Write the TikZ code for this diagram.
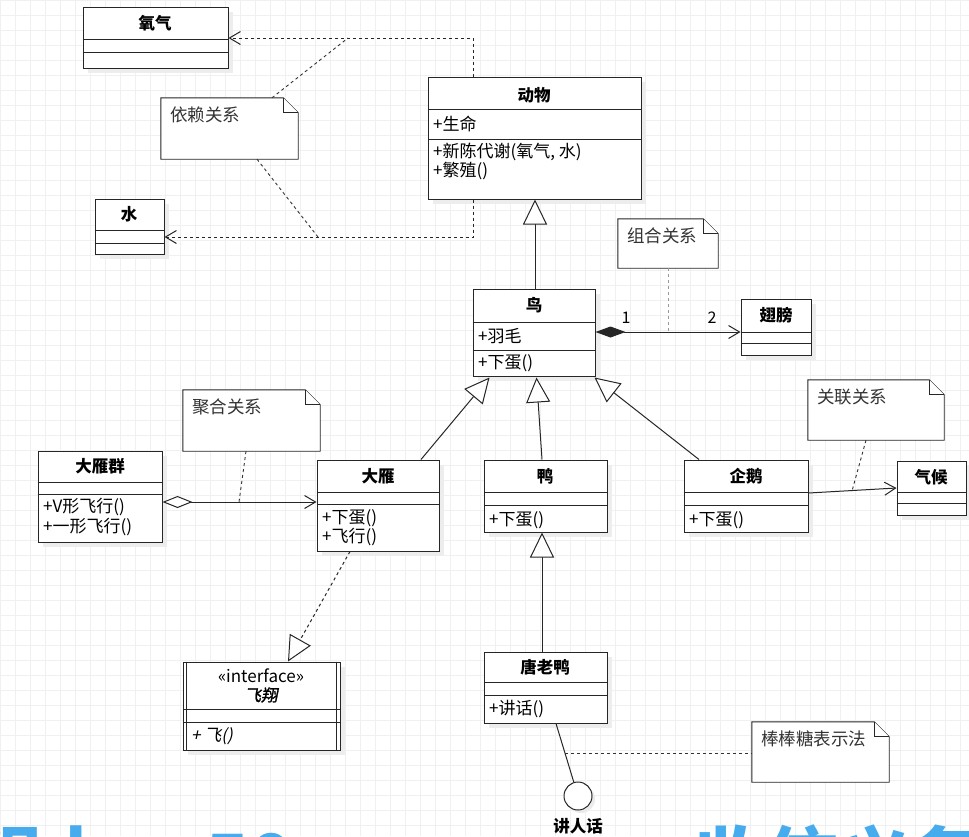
\documentclass[tikz,border=0pt]{standalone}
\usepackage{fontspec}
\setmainfont{Noto Sans CJK SC}
\newfontfamily\slantfont[FakeSlant=0.2]{Noto Sans CJK SC}
\newfontfamily\slantbold[FakeSlant=0.2,FakeBold=1.5]{Noto Sans CJK SC}
\usetikzlibrary{arrows.meta,fit,calc}
\definecolor{subblue}{RGB}{70,172,238}
\tikzset{
  box/.style={draw=black!85, line width=1pt, fill=white, inner sep=0pt},
  sepl/.style={draw=black!85, line width=0.9pt},
  ttl/.style={font=\fontsize{16.5}{18}\selectfont\bfseries, inner sep=0pt},
  attr/.style={font=\fontsize{17}{18}\selectfont, inner sep=0pt, anchor=west},
  notetxt/.style={font=\fontsize{17.5}{18}\selectfont, inner sep=0pt, anchor=north west, text=black!80},
  notebd/.style={draw=black!85, line width=0.9pt, fill=white},
  shadowfill/.style={fill=black!7},
  dep/.style={draw=black!85, line width=1pt, dash pattern=on 3pt off 3pt},
  notelink/.style={draw=black!80, line width=0.9pt, dash pattern=on 3pt off 3pt},
  openarr/.style={-{Straight Barb[length=11pt,width=13pt]}},
  gen/.style={draw=black!85, line width=1pt, -{Triangle[open,length=25pt,width=24pt,fill=white]}},
  real/.style={draw=black!85, line width=1pt, dash pattern=on 3pt off 3pt, -{Triangle[open,length=25pt,width=24pt,fill=white]}},
  solid1/.style={draw=black!85, line width=1pt},
  subtxt/.style={font=\fontsize{72}{80}\selectfont\bfseries, text=subblue, anchor=base west, inner sep=0pt},
}
\newcommand\umlbox[5]{\fill[shadowfill] (#2+5,#3+5) rectangle (#4+5,#5+5);
  \node[box, fit={(#2,#3)(#4,#5)}] (#1) {};}
\newcommand\umlsepline[2]{\draw[sepl] (#1.west |- 0,#2) -- (#1.east |- 0,#2);}
\newcommand\umlnote[6]{\node[inner sep=0pt, fit={(#2,#3)(#4,#5)}] (#1) {};
  \draw[notebd] (#1.north west) -- ($(#1.north east)+(-15,0)$) -- ($(#1.north east)+(0,15)$) -- (#1.south east) -- (#1.south west) -- cycle;
  \draw[notebd] ($(#1.north east)+(-15,0)$) |- ($(#1.north east)+(0,15)$);
  \node[notetxt] at ($(#1.north west)+(9,9)$) {#6};}
\begin{document}
\begin{tikzpicture}[x=1pt,y=-1pt]
\useasboundingbox (0,0) rectangle (969,836);
\fill[white] (0,0) rectangle (969,836);
\foreach \gx in {0,15,...,969} {\draw[black!6, line width=0.6pt] (\gx,0) -- (\gx,836);}
\foreach \gy in {0,15,...,836} {\draw[black!6, line width=0.6pt] (0,\gy) -- (969,\gy);}

% subtitle (clipped by the picture edge)
\begin{scope}
\clip (0,0) rectangle (969,836);
\node[subtxt] (subA) at (-30,886) {程上};
\node[subtxt] (subB) at (205,886) {50};
\node[subtxt] (subC) at (694,886) {收信义务};
\end{scope}

% ---------- classes ----------
\umlbox{oxy}{83}{7}{228}{68}
\umlsepline{oxy}{39}\umlsepline{oxy}{52}
\node[ttl] (oxyT) at (155,23) {氧气};

\umlbox{water}{95}{199}{164}{254}
\umlsepline{water}{230}\umlsepline{water}{243}
\node[ttl] (waterT) at (129,214) {水};

\umlbox{animal}{428}{77}{641}{199}
\umlsepline{animal}{109}\umlsepline{animal}{139}
\node[ttl] (animalT) at (534,95) {动物};
\node[attr] (animalA) at (433,124) {+生命};
\node[attr] (animalM1) at (433,152) {+新陈代谢(氧气, 水)};
\node[attr] (animalM2) at (433,171) {+繁殖()};

\umlbox{bird}{473}{289}{595}{376}
\umlsepline{bird}{322}\umlsepline{bird}{350}
\node[ttl] (birdT) at (534,305) {鸟};
\node[attr] (birdA) at (478,336) {+羽毛};
\node[attr] (birdM) at (478,363) {+下蛋()};

\umlbox{wing}{741}{299}{811}{355}
\umlsepline{wing}{332}\umlsepline{wing}{343}
\node[ttl] (wingT) at (776,315) {翅膀};

\umlbox{flock}{38}{451}{162}{542}
\umlsepline{flock}{482}\umlsepline{flock}{494}
\node[ttl] (flockT) at (100,466) {大雁群};
\node[attr] (flockM1) at (43,507) {+V形飞行()};
\node[attr] (flockM2) at (43,527) {+一形飞行()};

\umlbox{goose}{317}{460}{439}{551}
\umlsepline{goose}{492}\umlsepline{goose}{504}
\node[ttl] (gooseT) at (378,476) {大雁};
\node[attr] (gooseM1) at (322,518) {+下蛋()};
\node[attr] (gooseM2) at (322,537) {+飞行()};

\umlbox{duck}{484}{460}{607}{532}
\umlsepline{duck}{492}\umlsepline{duck}{505}
\node[ttl] (duckT) at (545,476) {鸭};
\node[attr] (duckM) at (489,520) {+下蛋()};

\umlbox{penguin}{684}{460}{808}{532}
\umlsepline{penguin}{492}\umlsepline{penguin}{505}
\node[ttl] (penguinT) at (746,476) {企鹅};
\node[attr] (penguinM) at (689,520) {+下蛋()};

\umlbox{climate}{897}{461}{966}{515}
\umlsepline{climate}{492}\umlsepline{climate}{503}
\node[ttl] (climateT) at (931,477) {气候};

\umlbox{fly}{183}{662}{340}{750}
\umlsepline{fly}{709}\umlsepline{fly}{722}
\draw[sepl] (fly.north west) ++(4,0) -- ++(0,88);
\draw[sepl] (fly.north east) ++(-4,0) -- ++(0,88);
\node[font=\fontsize{17}{18}\selectfont, inner sep=0pt] (flyS) at (261,676) {«interface»};
\node[font=\fontsize{16.5}{18}\selectfont\slantbold, inner sep=0pt] (flyT) at (261,695) {飞翔};
\node[attr, font=\fontsize{17}{18}\selectfont\slantfont] (flyM) at (191,736) {+ 飞()};

\umlbox{tang}{484}{652}{607}{723}
\umlsepline{tang}{682}\umlsepline{tang}{695}
\node[ttl] (tangT) at (545,667) {唐老鸭};
\node[attr] (tangM) at (489,709) {+讲话()};

% lollipop
\fill[black!8] (581,799) circle (14);
\node[circle, draw=black!85, line width=1pt, fill=white, minimum size=28pt, inner sep=0pt] (talk) at (578,796) {};
\node[font=\fontsize{16.5}{18}\selectfont\bfseries, inner sep=0pt] (talkL) at (578,826) {讲人话};

% ---------- notes ----------
\umlnote{depnote}{161}{98}{298}{159}{依赖关系}
\umlnote{compnote}{618}{219}{718}{268}{组合关系}
\umlnote{aggnote}{183}{390}{320}{451}{聚合关系}
\umlnote{assocnote}{808}{380}{944}{440}{关联关系}
\umlnote{lolnote}{752}{722}{889}{782}{棒棒糖表示法}

% ---------- connectors ----------
\coordinate (depx) at (473,0);
\draw[dep, openarr] (animal.north -| depx) |- (oxy.east |- 0,38);
\draw[dep, openarr] (animal.south -| depx) |- (water.east |- 0,237);
\coordinate (depTop) at (348,38);
\coordinate (depBot) at (318,237);
\draw[notelink] (depnote.north -| 272,0) -- (depTop);
\draw[notelink] (depnote.south -| 257,0) -- (depBot);

\draw[gen] (bird.north -| 535,0) -- (animal.south -| 535,0);

\draw[solid1, {Diamond[length=30pt,width=11pt]}-{Straight Barb[length=11pt,width=13pt]}] (bird.east |- 0,332) -- (wing.west |- 0,332);
\node[font=\fontsize{16}{18}\selectfont, inner sep=0pt] (m1) at (626,318) {1};
\node[font=\fontsize{16}{18}\selectfont, inner sep=0pt] (m2) at (712,318) {2};
\coordinate (compPt) at (668,332);
\draw[draw=black!40, line width=0.8pt, dash pattern=on 3pt off 3pt] (compnote.south -| compPt) -- (compPt);

\draw[solid1, {Diamond[open,length=30pt,width=12pt,fill=white]}-{Straight Barb[length=11pt,width=13pt]}] (flock.east |- 0,502) -- (goose.west |- 0,502);
\coordinate (aggPt) at (239,502);
\draw[notelink] (aggnote.south -| 246,0) -- (aggPt);

\draw[gen] (goose.north -| 421,0) -- ($(bird.south west)+(17,1)$);
\draw[gen] (duck.north -| 542,0) -- ($(bird.south west)+(64,1)$);
\draw[gen] (penguin.north -| 699,0) -- ($(bird.south east)+(-1,1)$);

\draw[solid1, openarr] (penguin.east |- 0,493) -- (climate.west |- 0,488);
\coordinate (assocPt) at (852,491);
\draw[notelink] (assocnote.south -| 866,0) -- (assocPt);

\draw[real] (goose.south -| 350,0) -- (fly.north -| 288,0);

\draw[gen] (tang.north -| 542,0) -- (duck.south -| 542,0);

\draw[solid1] (tang.south -| 556,0) -- (talk);
\coordinate (lolPt) at (565,753);
\draw[notelink] (lolPt) -- (lolnote.west |- lolPt);
\end{tikzpicture}
\end{document}
